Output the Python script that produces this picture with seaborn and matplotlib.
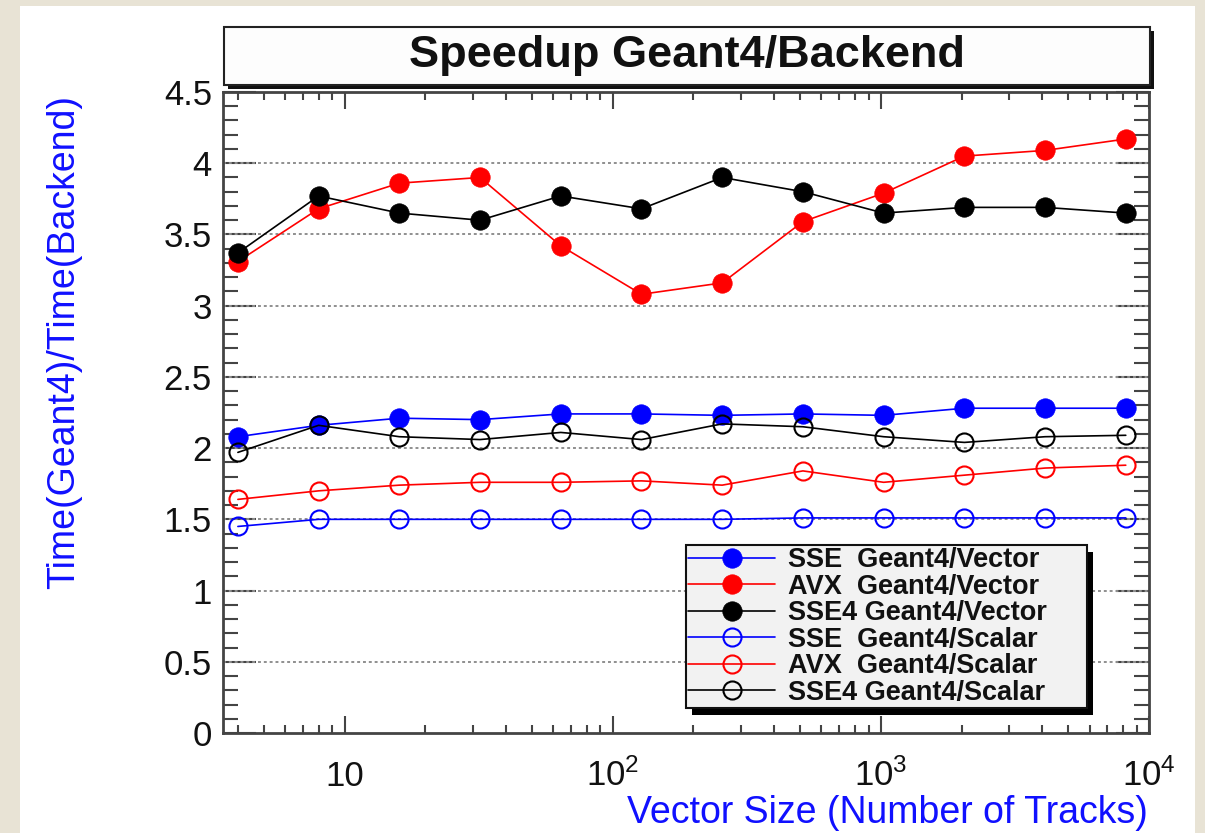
import matplotlib
matplotlib.use("Agg")
import matplotlib.pyplot as plt
import seaborn as sns
import pandas as pd
from matplotlib.patches import Rectangle
from matplotlib.ticker import FixedLocator, FixedFormatter, LogLocator, MultipleLocator, NullFormatter

# ---------------- data ----------------
vector_sizes = [4, 8, 16, 32, 64, 128, 256, 512, 1024, 2048, 4096, 8192]
sse_vector = [2.08, 2.16, 2.21, 2.20, 2.24, 2.24, 2.23, 2.24, 2.23, 2.28, 2.28, 2.28]
avx_vector = [3.31, 3.68, 3.86, 3.90, 3.42, 3.08, 3.16, 3.59, 3.79, 4.05, 4.09, 4.17]
sse4_vector = [3.37, 3.77, 3.65, 3.60, 3.77, 3.68, 3.90, 3.80, 3.65, 3.69, 3.69, 3.65]
sse_scalar = [1.45, 1.50, 1.50, 1.50, 1.50, 1.50, 1.50, 1.51, 1.51, 1.51, 1.51, 1.51]
avx_scalar = [1.64, 1.70, 1.74, 1.76, 1.76, 1.77, 1.74, 1.84, 1.76, 1.81, 1.86, 1.88]
sse4_scalar = [1.97, 2.16, 2.08, 2.06, 2.11, 2.06, 2.17, 2.15, 2.08, 2.04, 2.08, 2.09]

series_labels = ["SSE  Geant4/Vector", "AVX  Geant4/Vector", "SSE4 Geant4/Vector",
                 "SSE  Geant4/Scalar", "AVX  Geant4/Scalar", "SSE4 Geant4/Scalar"]
series_values = [sse_vector, avx_vector, sse4_vector, sse_scalar, avx_scalar, sse4_scalar]
series_colors = ["#0000ff", "#ff0000", "#000000", "#0000ff", "#ff0000", "#000000"]
series_filled = [True, True, True, False, False, False]

x_tick_values = [10, 100, 1000, 10000]
x_tick_labels = ["10", r"$\mathregular{10^{2}}$", r"$\mathregular{10^{3}}$", r"$\mathregular{10^{4}}$"]

title_text = "Speedup Geant4/Backend"
x_label = "Vector Size (Number of Tracks)"
y_label = "Time(Geant4)/Time(Backend)"

# ---------------- style ----------------
sns.set_style("ticks")
plt.rcParams["font.family"] = ["Liberation Sans", "DejaVu Sans"]
plt.rcParams["mathtext.fontset"] = "custom"
plt.rcParams["mathtext.rm"] = "Liberation Sans"

W, H = 1205, 833
fig = plt.figure(figsize=(W / 100, H / 100), dpi=100)
fig.patch.set_facecolor("#e8e3d5")

# white panel
fig.patches.append(Rectangle((20 / W, 0), (1195 - 20) / W, 1 - 6 / H,
                             transform=fig.transFigure, facecolor="white",
                             edgecolor="none", zorder=-5))

ax_l, ax_r, ax_t, ax_b = 223, 1149, 92, 733
ax = fig.add_axes([ax_l / W, (H - ax_b) / H, (ax_r - ax_l) / W, (ax_b - ax_t) / H])
ax.set_facecolor("white")
ax.set_zorder(1)

df = pd.DataFrame({"size": vector_sizes})
for lab, vals, col, filled in zip(series_labels, series_values, series_colors, series_filled):
    df["val"] = vals
    if filled:
        sns.lineplot(data=df, x="size", y="val", ax=ax, color=col, linewidth=1.2,
                     marker="o", markersize=14, markerfacecolor=col, markeredgecolor=col,
                     markeredgewidth=0.5, label=lab, zorder=3)
    else:
        sns.lineplot(data=df, x="size", y="val", ax=ax, color=col, linewidth=1.2,
                     marker="o", markersize=13, markerfacecolor="none", markeredgecolor=col,
                     markeredgewidth=1.5, label=lab, zorder=3)

ax.set_xscale("log")
ax.set_xlim(3.52, 10000)
ax.set_ylim(0, 4.5)
ax.set_xlabel("")
ax.set_ylabel("")

# grid (horizontal dotted)
for gy in [0.5, 1.0, 1.5, 2.0, 2.5, 3.0, 3.5, 4.0]:
    ax.axhline(gy, color="#8f8f8f", linewidth=1.4, linestyle=(0, (1.5, 1.5)), zorder=1)

spine_col = "#444444"
for s in ax.spines.values():
    s.set_visible(True)
    s.set_color(spine_col)
    s.set_linewidth(2)

ax.xaxis.set_major_locator(FixedLocator(x_tick_values))
ax.xaxis.set_major_formatter(FixedFormatter(x_tick_labels))
ax.xaxis.set_minor_locator(LogLocator(base=10, subs=[2, 3, 4, 5, 6, 7, 8, 9], numticks=20))
ax.xaxis.set_minor_formatter(NullFormatter())
ax.yaxis.set_major_locator(MultipleLocator(0.5))
ax.yaxis.set_minor_locator(MultipleLocator(0.1))
ax.yaxis.set_major_formatter(matplotlib.ticker.FuncFormatter(lambda v, p: f"{v:g}"))

ax.tick_params(axis="x", which="major", direction="in", length=12, width=1.5,
               color=spine_col, top=True, bottom=True, labelsize=25, pad=38,
               labelcolor="#111111")
ax.tick_params(axis="x", which="minor", direction="in", length=6, width=1.5,
               color=spine_col, top=True, bottom=True)
ax.tick_params(axis="y", which="major", direction="in", length=24, width=1.5,
               color=spine_col, left=True, right=True, labelsize=25, pad=8,
               labelcolor="#111111")
ax.tick_params(axis="y", which="minor", direction="in", length=11, width=1.5,
               color=spine_col, left=True, right=True)
for t in ax.get_xticklabels():
    t.set_verticalalignment("baseline")

# legend
lx0, lx1, ly0, ly1 = 686, 1087, 707, 545
axw, axh = ax_r - ax_l, ax_b - ax_t
bbox = ((lx0 - ax_l) / axw, (ax_b - ly0) / axh, (lx1 - lx0) / axw, (ly0 - ly1) / axh)
handles, labels = ax.get_legend_handles_labels()
leg = ax.legend(handles, labels, loc="upper left", bbox_to_anchor=bbox, mode="expand",
                borderaxespad=0, fancybox=False, framealpha=1, frameon=True,
                prop={"family": ["Liberation Sans"], "weight": "bold", "size": 19.5},
                labelcolor="#111111",
                labelspacing=0.02, borderpad=0.08, handlelength=3.2, handletextpad=0.5)
leg.get_frame().set_facecolor("#f2f2f2")
leg.get_frame().set_edgecolor("#111111")
leg.get_frame().set_linewidth(1.5)
leg.set_zorder(6)

fig.canvas.draw()
bb = leg.get_window_extent()
inv = ax.transAxes.inverted()
(sx0, sy0), (sx1, sy1) = inv.transform([(bb.x0 + 6, bb.y0 - 7), (bb.x1 + 6, bb.y1 - 7)])
ax.add_patch(Rectangle((sx0, sy0), sx1 - sx0, sy1 - sy0, transform=ax.transAxes,
                       facecolor="black", edgecolor="none", zorder=5.5, clip_on=False))

# title box with shadow
tx0, tx1, ty0, ty1 = 224, 1150, 27, 85
fig.patches.append(Rectangle(((tx0 + 4) / W, (H - ty1 - 4) / H), (tx1 - tx0) / W, (ty1 - ty0) / H,
                             transform=fig.transFigure, facecolor="#111111", edgecolor="none", zorder=1))
fig.patches.append(Rectangle((tx0 / W, (H - ty1) / H), (tx1 - tx0) / W, (ty1 - ty0) / H,
                             transform=fig.transFigure, facecolor="#fdfdfd", edgecolor="#222222",
                             linewidth=1.5, zorder=2))
fig.text((tx0 + tx1) / 2 / W, 1 - (ty0 + ty1) / 2 / H, title_text, ha="center", va="center",
         fontsize=32.5, fontweight="bold", color="#111111")

# axis titles
fig.text(1148 / W, 1 - 823 / H, x_label, ha="right", va="baseline", fontsize=27, color="#1010ff")
fig.text(64 / W, 1 - 95 / H, y_label, ha="center", va="top", rotation=90, fontsize=27, color="#1010ff")

fig.savefig("out.png", dpi=100, facecolor=fig.get_facecolor())
